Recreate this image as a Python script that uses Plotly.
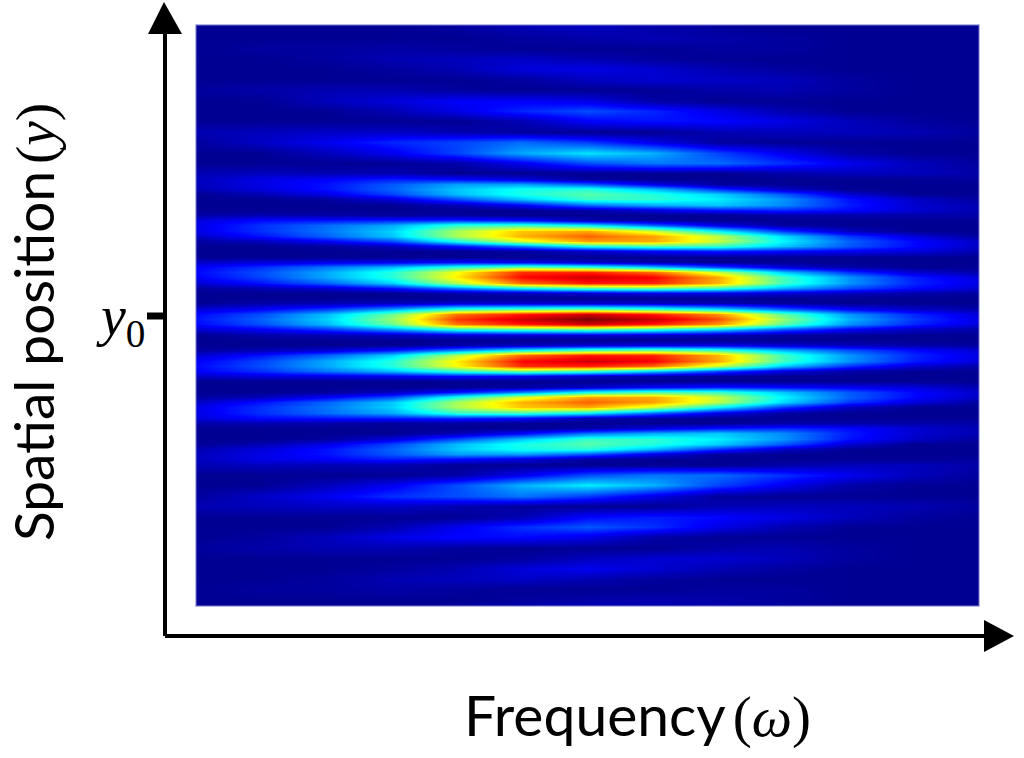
import plotly.graph_objects as go

W, H = 1024, 758

# Sample positions (13 columns, 85 rows, bottom row first)
# rows are closer together where the bright fringes are
freq = [0, 1, 2, 3, 4, 5, 6, 7, 8, 9, 10, 11, 12]
pos = [-28, -27, -26, -25, -24, -23, -22, -21, -20, -19, -18, -17, -16, -15,
       -14, -13.5, -13, -12.5, -12, -11.5, -11, -10.5, -10, -9.5, -9, -8.5, -8, -7.5,
       -7, -6.5, -6, -5.5, -5, -4.5, -4, -3.5, -3, -2.5, -2, -1.5, -1, -0.5,
       0, 0.5, 1, 1.5, 2, 2.5, 3, 3.5, 4, 4.5, 5, 5.5, 6, 6.5,
       7, 7.5, 8, 8.5, 9, 9.5, 10, 10.5, 11, 11.5, 12, 12.5, 13, 13.5, 14,
       15, 16, 17, 18, 19, 20, 21, 22, 23, 24, 25, 26, 27, 28]

# Intensity in percent, estimated by eye at each sample
intensity = [
    [2, 2, 2, 2, 3, 5, 6, 4, 3, 2, 2, 2, 2],
    [2, 2, 2, 2, 2, 3, 4, 5, 4, 3, 2, 2, 2],
    [2, 3, 3, 4, 3, 2, 2, 2, 3, 3, 2, 2, 2],
    [2, 2, 3, 5, 6, 7, 5, 3, 2, 2, 2, 2, 2],
    [2, 2, 2, 3, 5, 9, 11, 8, 5, 3, 2, 2, 2],
    [2, 2, 2, 2, 2, 3, 6, 8, 8, 6, 3, 2, 2],
    [3, 4, 5, 5, 3, 2, 2, 2, 4, 5, 3, 2, 2],
    [2, 3, 6, 10, 13, 13, 10, 4, 2, 2, 2, 2, 2],
    [2, 2, 2, 5, 11, 17, 21, 17, 10, 5, 2, 2, 2],
    [2, 2, 2, 2, 2, 5, 13, 15, 13, 10, 6, 3, 2],
    [5, 6, 7, 7, 5, 3, 2, 2, 5, 6, 6, 5, 3],
    [3, 7, 11, 17, 20, 24, 18, 10, 3, 2, 2, 2, 2],
    [2, 2, 6, 11, 20, 30, 36, 30, 19, 11, 4, 2, 2],
    [2, 2, 2, 2, 4, 11, 20, 24, 23, 17, 11, 6, 3],
    [5, 6, 5, 5, 2, 2, 2, 2, 2, 4, 6, 6, 4],
    [6, 10, 12, 15, 13, 9, 3, 2, 2, 2, 2, 2, 3],
    [6, 10, 14, 21, 28, 28, 21, 10, 3, 2, 2, 2, 2],
    [5, 9, 14, 22, 32, 39, 41, 31, 17, 7, 2, 2, 2],
    [2, 5, 10, 19, 31, 40, 46, 41, 33, 21, 8, 2, 2],
    [2, 2, 3, 9, 20, 32, 43, 42, 36, 27, 14, 7, 3],
    [2, 2, 2, 2, 5, 12, 23, 29, 32, 26, 15, 8, 5],
    [2, 2, 2, 2, 2, 2, 4, 9, 14, 16, 13, 8, 5],
    [4, 5, 4, 3, 3, 2, 2, 2, 2, 4, 4, 4, 4],
    [9, 13, 14, 15, 16, 13, 5, 3, 2, 2, 2, 2, 2],
    [10, 17, 23, 29, 42, 43, 36, 22, 10, 3, 2, 2, 2],
    [10, 17, 24, 33, 54, 68, 71, 58, 37, 18, 6, 2, 2],
    [7, 14, 22, 32, 54, 70, 78, 72, 56, 34, 18, 9, 3],
    [3, 6, 12, 20, 40, 59, 72, 71, 57, 37, 22, 13, 7],
    [2, 2, 3, 6, 14, 25, 39, 45, 43, 32, 21, 13, 7],
    [2, 2, 2, 2, 2, 3, 7, 12, 15, 13, 11, 9, 5],
    [2, 2, 2, 2, 2, 2, 2, 2, 2, 2, 2, 2, 2],
    [7, 9, 10, 11, 13, 11, 7, 4, 2, 2, 2, 2, 2],
    [12, 17, 24, 31, 42, 49, 43, 33, 20, 9, 4, 2, 2],
    [13, 20, 29, 41, 62, 83, 84, 77, 57, 32, 17, 8, 4],
    [12, 19, 29, 41, 64, 87, 92, 88, 71, 44, 27, 15, 9],
    [8, 14, 22, 33, 55, 77, 85, 84, 70, 44, 27, 16, 10],
    [3, 5, 8, 14, 25, 37, 45, 48, 43, 30, 20, 13, 8],
    [2, 2, 2, 2, 4, 6, 8, 10, 10, 8, 6, 4, 3],
    [2, 2, 2, 2, 2, 2, 2, 2, 2, 2, 2, 2, 2],
    [2, 4, 5, 6, 8, 8, 8, 7, 5, 3, 2, 2, 2],
    [8, 12, 18, 28, 42, 46, 48, 43, 35, 22, 12, 7, 4],
    [13, 20, 31, 48, 76, 85, 92, 85, 73, 47, 27, 16, 9],
    [14, 22, 33, 52, 82, 92, 100, 93, 80, 52, 30, 18, 10],
    [13, 20, 31, 48, 76, 85, 92, 85, 73, 47, 27, 16, 9],
    [8, 12, 18, 28, 42, 46, 48, 43, 35, 22, 12, 7, 4],
    [2, 4, 5, 6, 8, 8, 8, 7, 5, 3, 2, 2, 2],
    [2, 2, 2, 2, 2, 2, 2, 2, 2, 2, 2, 2, 2],
    [2, 2, 2, 2, 4, 6, 8, 10, 10, 8, 6, 4, 3],
    [3, 5, 8, 14, 25, 37, 45, 48, 43, 30, 20, 13, 8],
    [8, 14, 22, 33, 55, 77, 85, 84, 70, 44, 27, 16, 10],
    [12, 19, 29, 41, 64, 87, 92, 88, 71, 44, 27, 15, 9],
    [13, 20, 29, 41, 62, 83, 84, 77, 57, 32, 17, 8, 4],
    [12, 17, 24, 31, 42, 49, 43, 33, 20, 9, 4, 2, 2],
    [7, 9, 10, 11, 13, 11, 7, 4, 2, 2, 2, 2, 2],
    [2, 2, 2, 2, 2, 2, 2, 2, 2, 2, 2, 2, 2],
    [2, 2, 2, 2, 2, 3, 7, 12, 15, 13, 11, 9, 5],
    [2, 2, 3, 6, 14, 25, 39, 45, 43, 32, 21, 13, 7],
    [3, 6, 12, 20, 40, 59, 72, 71, 57, 37, 22, 13, 7],
    [7, 14, 22, 32, 54, 70, 78, 72, 56, 34, 18, 9, 3],
    [10, 17, 24, 33, 54, 68, 71, 58, 37, 18, 6, 2, 2],
    [10, 17, 23, 29, 42, 43, 36, 22, 10, 3, 2, 2, 2],
    [9, 13, 14, 15, 16, 13, 5, 3, 2, 2, 2, 2, 2],
    [4, 5, 4, 3, 3, 2, 2, 2, 2, 4, 4, 4, 4],
    [2, 2, 2, 2, 2, 2, 4, 9, 14, 16, 13, 8, 5],
    [2, 2, 2, 2, 5, 12, 23, 29, 32, 26, 15, 8, 5],
    [2, 2, 3, 9, 20, 32, 43, 42, 36, 27, 14, 7, 3],
    [2, 5, 10, 19, 31, 40, 46, 41, 33, 21, 8, 2, 2],
    [5, 9, 14, 22, 32, 39, 41, 31, 17, 7, 2, 2, 2],
    [6, 10, 14, 21, 28, 28, 21, 10, 3, 2, 2, 2, 2],
    [6, 10, 12, 15, 13, 9, 3, 2, 2, 2, 2, 2, 3],
    [5, 6, 5, 5, 2, 2, 2, 2, 2, 4, 6, 6, 4],
    [2, 2, 2, 2, 4, 11, 20, 24, 23, 17, 11, 6, 3],
    [2, 2, 6, 11, 19, 29, 35, 30, 19, 11, 4, 2, 2],
    [3, 7, 11, 16, 19, 23, 18, 10, 3, 2, 2, 2, 2],
    [5, 6, 7, 7, 5, 3, 2, 2, 5, 6, 6, 5, 3],
    [2, 2, 2, 2, 2, 5, 12, 14, 13, 10, 6, 3, 2],
    [2, 2, 2, 5, 10, 16, 20, 16, 10, 5, 2, 2, 2],
    [2, 2, 6, 9, 12, 12, 10, 4, 2, 2, 2, 2, 2],
    [3, 4, 5, 5, 3, 2, 2, 2, 4, 5, 3, 2, 2],
    [2, 2, 2, 2, 2, 3, 6, 8, 7, 6, 3, 2, 2],
    [2, 2, 2, 3, 5, 9, 10, 8, 5, 3, 2, 2, 2],
    [2, 2, 3, 5, 6, 7, 5, 3, 2, 2, 2, 2, 2],
    [2, 3, 3, 4, 3, 2, 2, 2, 3, 3, 2, 2, 2],
    [2, 2, 2, 2, 2, 3, 4, 5, 4, 3, 2, 2, 2],
    [2, 2, 2, 2, 3, 5, 6, 4, 3, 2, 2, 2, 2],
]

jet = [
    [0, "rgb(0,0,127)"],
    [0.125, "rgb(0,0,255)"],
    [0.375, "rgb(0,255,255)"],
    [0.625, "rgb(255,255,0)"],
    [0.875, "rgb(255,0,0)"],
    [1, "rgb(127,0,0)"],
]


# pixel -> paper coordinates, the axes are drawn by hand like in the original
def px(x):
    return x / W


def py(y):
    return 1 - y / H


fig = go.Figure(go.Heatmap(
    x=freq, y=pos, z=intensity,
    colorscale=jet, zmin=0, zmax=100,
    zsmooth="best", showscale=False,
))


def line(x0, y0, x1, y1, width):
    fig.add_shape(type="line", xref="paper", yref="paper",
                  x0=px(x0), y0=py(y0), x1=px(x1), y1=py(y1),
                  line=dict(color="black", width=width))


def triangle(points):
    path = "M " + " L ".join(f"{px(a):.5f},{py(b):.5f}" for a, b in points) + " Z"
    fig.add_shape(type="path", xref="paper", yref="paper", path=path,
                  fillcolor="black", line=dict(color="black", width=0))


def label(x, y, text, size, font, angle=0):
    fig.add_annotation(xref="paper", yref="paper", x=px(x), y=py(y), text=text,
                       showarrow=False, textangle=angle, xanchor="center", yanchor="middle",
                       font=dict(size=size, family=font, color="black"))


# thin lavender frame round the image
fig.add_shape(type="rect", xref="paper", yref="paper",
              x0=px(196), y0=py(606), x1=px(979), y1=py(25),
              line=dict(color="rgba(120,120,210,0.7)", width=1.5))

line(165, 34, 165, 636, 4)
line(165, 636, 986, 636, 4)
line(147, 316, 165, 316, 7)
triangle([(164, 2), (148, 34), (182, 34)])
triangle([(1014, 636), (984, 620), (984, 652)])

serif = "Liberation Serif"
label(33, 322, 'Spatial position\u2009<span style="font-family:Liberation Serif">(<i>y</i>)</span>',
      55, "Lato", angle=-90)
label(120, 320, "<i>y</i><sub>0</sub>", 56, serif)
label(637, 714, 'Frequency\u2009<span style="font-family:Liberation Serif">(<i>ω</i>)</span>',
      57, "Lato")

fig.update_layout(
    width=W, height=H,
    margin=dict(l=0, r=0, t=0, b=0),
    paper_bgcolor="white", plot_bgcolor="white",
    xaxis=dict(domain=[px(196), px(979)], range=[0, 12], visible=False),
    yaxis=dict(domain=[py(606), py(25)], range=[-27.6, 28.27], visible=False),
)

fig.write_html("out.html", config=dict(displayModeBar=False),
               post_script="document.body.style.margin='0';")
